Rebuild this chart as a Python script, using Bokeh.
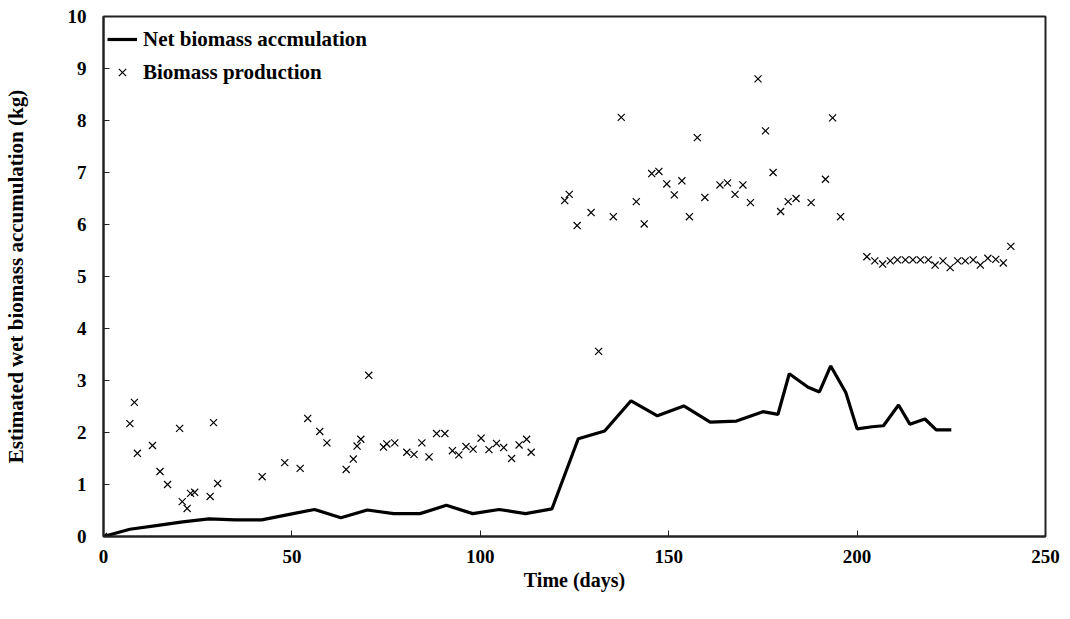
from bokeh.plotting import figure
from bokeh.models import Legend, LegendItem, FixedTicker, Range1d
from bokeh.embed import file_html
from bokeh.resources import INLINE

# Net biomass accumulation (line)
net_days = [0, 7, 14, 21, 28, 35, 42, 49, 56, 63, 70, 77, 84, 91, 98, 105, 112, 119,
            126, 133, 140, 147, 154, 161, 168, 175, 179, 182, 187, 190, 193, 197, 200,
            204, 207, 211, 214, 218, 221, 225]
net_vals = [0, 0.14, 0.21, 0.28, 0.34, 0.32, 0.32, 0.42, 0.52, 0.36, 0.51, 0.44, 0.44,
            0.6, 0.44, 0.52, 0.44, 0.53, 1.88, 2.03, 2.61, 2.32, 2.51, 2.2, 2.22, 2.4,
            2.35, 3.13, 2.87, 2.78, 3.28, 2.77, 2.07, 2.11, 2.13, 2.53, 2.16, 2.26, 2.05, 2.05]

# Biomass production (crosses)
prod_days = [0, 7.0, 8.2, 9.0, 13.0, 15.0, 17.0, 20.2, 20.9, 22.2, 23.1, 24.2, 28.3, 29.2,
             30.3, 42.1, 48.1, 52.2, 54.2, 57.4, 59.3, 64.4, 66.3, 67.3, 68.3, 70.4, 74.3,
             75.2, 77.3, 80.5, 82.4, 84.5, 86.4, 88.4, 90.6, 92.6, 94.3, 96.2, 98.1, 100.2,
             102.3, 104.3, 106.2, 108.3, 110.3, 112.3, 113.5,
             122.4, 123.6, 125.7, 129.4, 131.4, 135.3, 137.4, 141.4, 143.5, 145.5, 147.4,
             149.5, 151.5, 153.5, 155.5, 157.6, 159.6, 163.6, 165.6, 167.6, 169.7, 171.7,
             173.7, 175.7, 177.7, 179.7, 181.7, 183.8, 187.8, 191.6, 193.5, 195.6,
             202.6, 204.7, 206.8, 208.8, 210.7, 212.8, 214.8, 216.8, 218.9, 220.7, 222.8,
             224.7, 226.7, 228.7, 230.8, 232.7, 234.7, 236.8, 238.8, 240.8]
prod_vals = [0, 2.17, 2.58, 1.6, 1.75, 1.25, 1.0, 2.08, 0.67, 0.54, 0.83, 0.85, 0.77, 2.19,
             1.02, 1.15, 1.42, 1.31, 2.27, 2.02, 1.8, 1.29, 1.49, 1.74, 1.87, 3.1, 1.72,
             1.78, 1.8, 1.62, 1.58, 1.8, 1.53, 1.98, 1.98, 1.65, 1.57, 1.73, 1.68, 1.89,
             1.67, 1.79, 1.71, 1.5, 1.76, 1.87, 1.62,
             6.46, 6.58, 5.98, 6.23, 3.56, 6.15, 8.06, 6.44, 6.01, 6.98, 7.02,
             6.78, 6.57, 6.84, 6.15, 7.67, 6.52, 6.76, 6.8, 6.58, 6.76, 6.42,
             8.8, 7.8, 7.0, 6.25, 6.44, 6.5, 6.42, 6.87, 8.05, 6.15,
             5.38, 5.3, 5.24, 5.3, 5.32, 5.32, 5.32, 5.32, 5.32, 5.22, 5.3,
             5.17, 5.3, 5.3, 5.32, 5.22, 5.35, 5.33, 5.26, 5.58]

x_ticks = [0, 50, 100, 150, 200, 250]
y_ticks = [0, 1, 2, 3, 4, 5, 6, 7, 8, 9, 10]

FONT = "Liberation Serif"

p = figure(width=1060, height=608, output_backend="svg", toolbar_location=None,
           x_range=Range1d(0, 250), y_range=Range1d(0, 10),
           min_border_left=100, min_border_right=15, min_border_top=16, min_border_bottom=72)

p.xgrid.visible = False
p.ygrid.visible = False
p.outline_line_color = "#222222"
p.outline_line_width = 2
p.background_fill_color = "white"
p.border_fill_color = "white"

for ax, ticks in ((p.xaxis[0], x_ticks), (p.yaxis[0], y_ticks)):
    ax.ticker = FixedTicker(ticks=ticks)
    ax.minor_tick_line_color = None
    ax.major_tick_in = 6
    ax.major_tick_out = 0
    ax.axis_line_width = 2
    ax.axis_line_color = "#222222"
    ax.major_tick_line_color = "#222222"
    ax.major_label_text_font = FONT
    ax.major_label_text_font_style = "bold"
    ax.major_label_text_font_size = "19px"
    ax.major_label_text_color = "black"
    ax.axis_label_text_font = FONT
    ax.axis_label_text_font_style = "bold"
    ax.axis_label_text_color = "black"

p.xaxis.axis_label = "Time (days)"
p.yaxis.axis_label = "Estimated wet biomass accumulation (kg)"
p.xaxis.axis_label_text_font_size = "20px"
p.yaxis.axis_label_text_font_size = "21px"
p.xaxis.major_label_standoff = 13
p.xaxis.axis_label_standoff = 3
p.yaxis.major_label_standoff = 17
p.yaxis.axis_label_standoff = 37

ln = p.line(net_days, net_vals, line_color="black", line_width=3.2)
sc = p.scatter(prod_days, prod_vals, marker="x", size=10, line_color="black", line_width=1.2)

legend = Legend(items=[LegendItem(label="Net biomass accmulation", renderers=[ln]),
                       LegendItem(label="Biomass production", renderers=[sc])],
                location=(4, 451), margin=0, padding=0, spacing=7,
                glyph_width=30, glyph_height=26, label_standoff=6,
                label_text_font=FONT, label_text_font_style="bold",
                label_text_font_size="21px", label_text_color="black",
                border_line_color=None, background_fill_alpha=0)
p.add_layout(legend)

open("out.html", "w").write(file_html(p, INLINE))
